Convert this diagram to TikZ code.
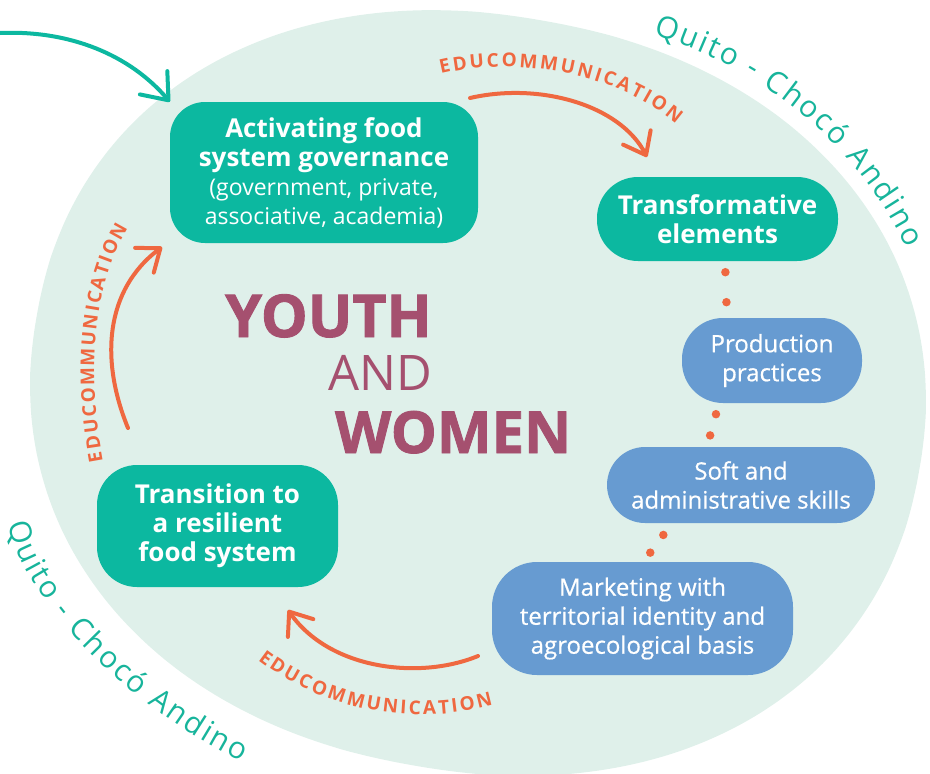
\documentclass[tikz,border=0pt]{standalone}
\usepackage{fontspec}
\setmainfont{Open Sans}
\newfontfamily\heavyfont{Open Sans}[BoldFeatures={FakeBold=1.5}]
\newfontfamily\medfont{Open Sans}[FakeBold=0.6]
\usepackage{xcolor}
\usetikzlibrary{arrows.meta,decorations.text}
\definecolor{mintbg}{HTML}{DFF0EA}
\definecolor{govteal}{HTML}{0CB8A0}
\definecolor{skillblue}{HTML}{679BD1}
\definecolor{eduorange}{HTML}{EF6840}
\definecolor{youthplum}{HTML}{A5506F}
\definecolor{quitoteal}{HTML}{17B49B}
\newcommand{\govsub}{\mdseries\fontsize{23}{26}\selectfont}
\tikzset{
	tealbox/.style={
			fill=govteal, text=white, align=center, inner sep=0pt,
			rounded corners=#1, font=\bfseries\fontsize{26}{29}\selectfont
		},
	tealbox/.default=40pt,
	bluebox/.style={
			fill=skillblue, text=white, align=center, inner sep=0pt,
			rounded corners=#1, font=\medfont\fontsize{24}{29}\selectfont
		},
	bluebox/.default=40pt,
	edu/.style={
			draw=eduorange, line width=4pt, line cap=round,
			-{Straight Barb[round,length=20pt,width=31pt]}
		},
	entryarrow/.style={
			draw=govteal, line width=4pt, line cap=round,
			-{Straight Barb[round,length=23pt,width=36pt]}
		},
	dotlink/.style={
			draw=eduorange, line width=8.5pt, line cap=round, dash pattern=on 0pt off #1
		},
	edutext/.style={
			decorate, decoration={text along path,
					text={|\bfseries\fontsize{19}{19}\selectfont|EDUCOMMUNICATION},
					text color=eduorange, text align={fit to path}}
		},
	quitotext/.style={
			decorate, decoration={text along path,
					text={|\fontsize{30}{30}\selectfont|Quito - Chocó Andino},
					text color=quitoteal, text align={fit to path}}
		},
	bigword/.style={anchor=base west, inner sep=0pt, text=youthplum}
}

\begin{document}
\begin{tikzpicture}[x=1pt,y=-1pt]
	\useasboundingbox (0,0) rectangle (930,774);

	% Territory
	\fill[mintbg, rotate around={-10:(478,393)}] plot[domain=1.5:361.5, samples=121, smooth]
	({478+448*sign(cos(\x))*abs(cos(\x))^0.93}, {393+378*sign(sin(\x))*abs(sin(\x))^0.93}) -- cycle;

	\path[quitotext] (653,35) .. controls (762,68) and (852,138) .. (907,248);
	\path[quitotext] (8,524) .. controls (30,615) and (145,715) .. (242,762);

	% Stages
	\node[tealbox=35pt, minimum width=308pt, minimum height=141pt] (gov) at (324,172.5)
	{Activating food\\ system governance\\
		\govsub (government, private,\\ \govsub associative, academia)};
	\node[tealbox=41pt, minimum width=241pt, minimum height=84pt] (transf) at (717.5,219)
	{Transformative\\ elements};
	\node[tealbox=40pt, minimum width=241pt, minimum height=122pt] (transit) at (217.5,526)
	{Transition to\\ a resilient\\ food system};

	% Transformative elements
	\node[bluebox=41pt, minimum width=180pt, minimum height=85pt] (prod) at (772,360.5)
	{Production\\ practices};
	\node[bluebox=38pt, minimum width=268pt, minimum height=76pt] (soft) at (741,485)
	{Soft and\\ administrative skills};
	\node[bluebox=45pt, minimum width=301pt, minimum height=113pt] (market) at (642.5,618.5)
	{Marketing with\\ territorial identity and\\ agroecological basis};

	\draw[dotlink=30pt, dash phase=19pt] ([xshift=7.5pt]transf.south) -- ([xshift=-45pt]prod.north);
	\draw[dotlink=22pt, dash phase=10.6pt] ([xshift=-53pt]prod.south) -- ([xshift=-34pt]soft.north);
	\draw[dotlink=22pt, dash phase=7.4pt] ([xshift=-69pt]soft.south) -- ([xshift=1pt]market.north);

	% Centre words
	\node[bigword, font=\heavyfont\bfseries\fontsize{59}{59}\selectfont] (youth) at (225,337) {YOUTH};
	\node[bigword, font=\fontsize{49}{49}\selectfont] (and) at (328,390) {AND};
	\node[bigword, font=\heavyfont\bfseries\fontsize{58}{58}\selectfont] (women) at (335,453) {WOMEN};

	% Educommunication cycle
	\coordinate (entry) at (0,33);
	\draw[entryarrow] (entry) .. controls (70,30) and (130,55) .. (gov.north west);

	\coordinate (eduTopA) at (470,98);
	\coordinate (eduTopB) at (647,157);
	\draw[edu] (eduTopA) .. controls (540,82) and (620,105) .. (eduTopB);
	\path[edutext] (441,74) .. controls (520,55) and (620,75) .. (676,124);

	\coordinate (eduBotA) at (478,656);
	\coordinate (eduBotB) at (288,610);
	\draw[edu] (eduBotA) .. controls (420,680) and (330,670) .. (eduBotB);
	\path[edutext] (258,660) .. controls (330,715) and (420,725) .. (493,705);

	\coordinate (eduLeftA) at (128,428);
	\coordinate (eduLeftB) at (162,247);
	\draw[edu] (eduLeftA) .. controls (100,360) and (105,290) .. (eduLeftB);
	\path[edutext] (103,461) .. controls (88,380) and (90,290) .. (128,228);

\end{tikzpicture}
\end{document}
